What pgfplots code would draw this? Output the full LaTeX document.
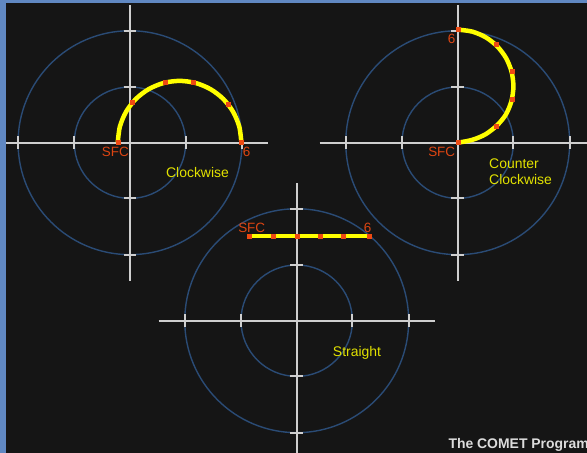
\documentclass[border=0pt]{standalone}
\usepackage{pgfplots}
\pgfplotsset{compat=1.18}
\usepackage{fontspec}
\setmainfont{Liberation Sans}
\definecolor{bgc}{HTML}{151515}
\definecolor{ringc}{HTML}{2A4B75}
\definecolor{axc}{HTML}{CFCFCF}
\definecolor{yelc}{HTML}{FFFF00}
\definecolor{dotc}{HTML}{EE4A12}
\definecolor{redtxt}{HTML}{DD4512}
\definecolor{yeltxt}{HTML}{E2E200}
\definecolor{bordc}{HTML}{6088C2}
\definecolor{comc}{HTML}{DCDCDC}
\newcommand{\hodobase}{%
  \draw[ringc, line width=1.4bp] (0,0) circle[radius=1];
  \draw[ringc, line width=1.4bp] (0,0) circle[radius=2.01];
  \draw[axc, line width=2bp] (-2.48,0) -- (2.48,0);
  \draw[axc, line width=2bp] (0,-2.48) -- (0,2.48);
  \draw[axc, line width=2bp] (-0.115,1) -- (0.115,1) (-0.115,2.01) -- (0.115,2.01)
     (-0.115,-1) -- (0.115,-1) (-0.115,-2.01) -- (0.115,-2.01)
     (1,-0.115) -- (1,0.115) (2.01,-0.115) -- (2.01,0.115)
     (-1,-0.115) -- (-1,0.115) (-2.01,-0.115) -- (-2.01,0.115);
}
\pgfplotsset{hodo/.style={hide axis, x=55.7bp, y=55.7bp, clip=true, anchor=origin}}
\begin{document}
\begin{tikzpicture}
\fill[bgc] (0bp,0bp) rectangle (587bp,453bp);
% top left: clockwise
\begin{axis}[hodo, xmin=-2.334, xmax=2.5, ymin=-2.5, ymax=2.562, at={(130bp,310.3bp)}]
\hodobase
\addplot[yelc, line width=4.5bp, smooth, no marks] coordinates {
(-0.22,0) (-0.182,0.287) (-0.071,0.555) (0.105,0.785) (0.335,0.961) (0.603,1.072)
(0.89,1.11) (1.177,1.072) (1.445,0.961) (1.675,0.785) (1.851,0.555) (1.962,0.287) (2.0,0)};
\addplot[only marks, mark=square*, mark size=2bp, dotc] coordinates {
(-0.22,0) (0.048,0.72) (0.625,1.09) (1.14,1.09) (1.77,0.69) (2.0,0)};
\node[redtxt, anchor=base, font=\fontsize{13.5}{16}\selectfont] at (-0.264,-0.251) {SFC};
\node[redtxt, anchor=base, font=\fontsize{13.5}{16}\selectfont] at (2.095,-0.251) {6};
\node[yeltxt, anchor=base, font=\fontsize{14}{16}\selectfont] at (1.212,-0.621) {Clockwise};
\end{axis}
% top right: counter clockwise
\begin{axis}[hodo, xmin=-2.5, xmax=2.321, ymin=-2.5, ymax=2.562, at={(457.7bp,310.3bp)}]
\hodobase
\addplot[yelc, line width=4.5bp, smooth, no marks] coordinates {
(0,0) (0.259,0.05) (0.5,0.151) (0.707,0.312) (0.866,0.508) (0.966,0.752) (1.0,1.015)
(0.966,1.278) (0.866,1.523) (0.707,1.733) (0.5,1.894) (0.259,1.995) (0,2.03)};
\addplot[only marks, mark=square*, mark size=2bp, dotc] coordinates {
(0,0) (0.69,0.30) (0.98,0.78) (0.98,1.28) (0.69,1.76) (0,2.03)};
\node[redtxt, anchor=base, font=\fontsize{13.5}{16}\selectfont] at (-0.111,1.785) {6};
\node[redtxt, anchor=base, font=\fontsize{13.5}{16}\selectfont] at (-0.287,-0.251) {SFC};
\node[yeltxt, anchor=base west, inner sep=0pt, font=\fontsize{14}{16}\selectfont] at (0.562,-0.46) {Counter};
\node[yeltxt, anchor=base west, inner sep=0pt, font=\fontsize{14}{16}\selectfont] at (0.562,-0.747) {Clockwise};
\end{axis}
% bottom: straight
\begin{axis}[hodo, xmin=-2.5, xmax=2.5, ymin=-2.375, ymax=2.5, at={(296.7bp,132.3bp)}]
\hodobase
\addplot[yelc, line width=4.5bp, no marks] coordinates {(-0.86,1.52) (1.30,1.52)};
\addplot[only marks, mark=square*, mark size=2bp, dotc] coordinates {
(-0.86,1.52) (-0.42,1.52) (0,1.52) (0.425,1.52) (0.84,1.52) (1.30,1.52)};
\node[redtxt, anchor=base, font=\fontsize{13.5}{16}\selectfont] at (-0.808,1.587) {SFC};
\node[redtxt, anchor=base, font=\fontsize{13.5}{16}\selectfont] at (1.275,1.587) {6};
\node[yeltxt, anchor=base, font=\fontsize{14}{16}\selectfont] at (1.083,-0.634) {Straight};
\end{axis}
\begin{scope}
\clip (0bp,0bp) rectangle (587bp,453bp);
\node[comc, anchor=base west, inner sep=0pt, font=\bfseries\fontsize{14}{16}\selectfont] at (448.3bp,4.7bp) {The COMET Program};
\end{scope}
\fill[bordc] (0bp,0bp) rectangle (6bp,453bp);
\fill[bordc] (0bp,450.3bp) rectangle (587bp,453bp);
\end{tikzpicture}
\end{document}
